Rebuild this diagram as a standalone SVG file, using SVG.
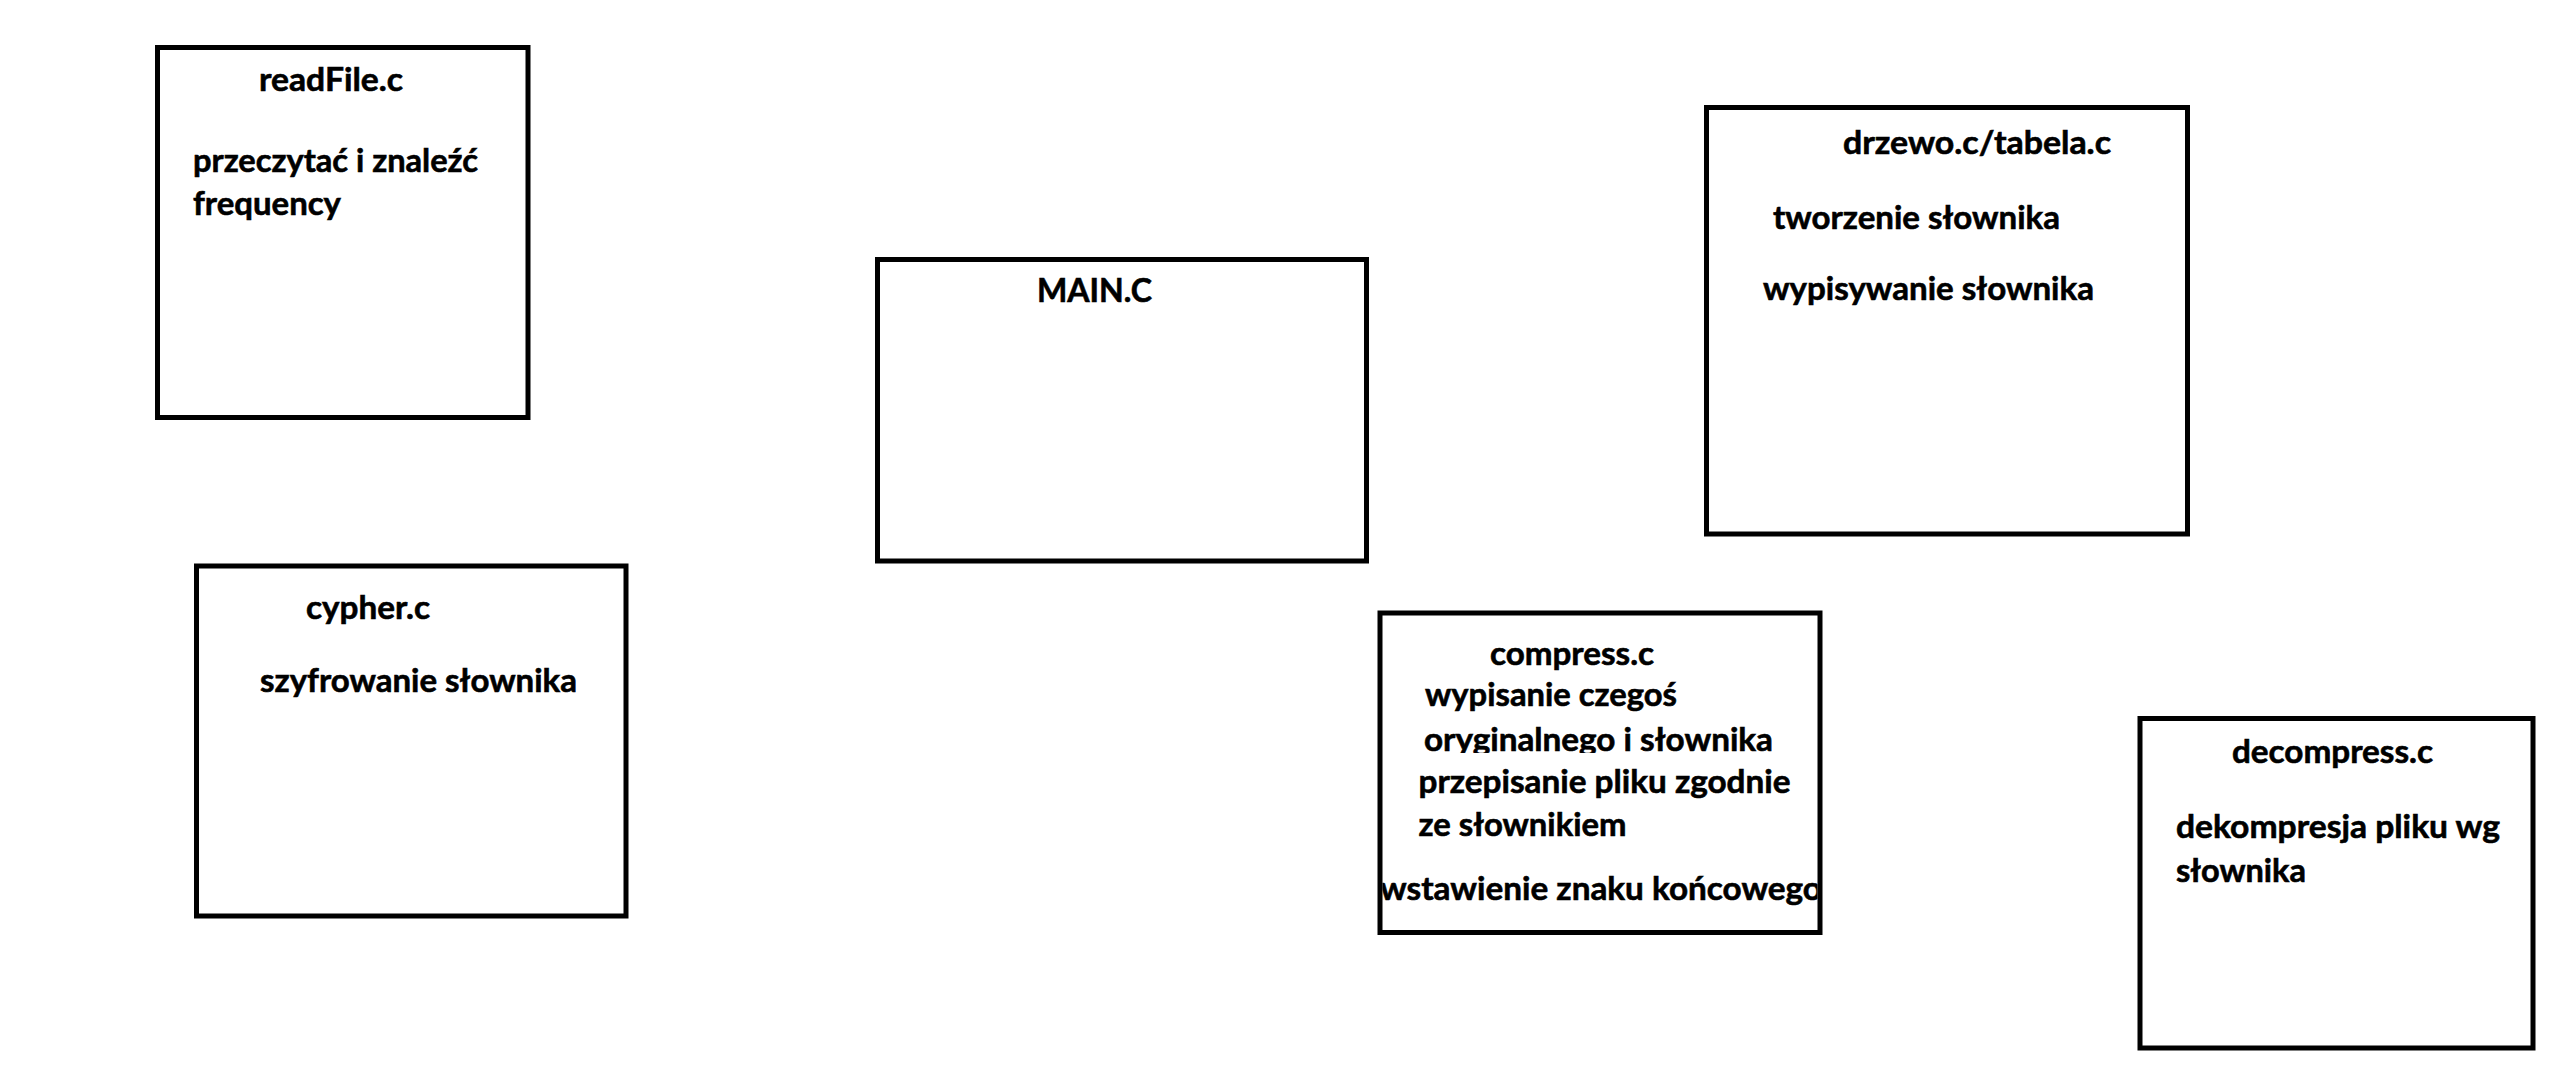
<svg xmlns="http://www.w3.org/2000/svg" width="2568" height="1068" viewBox="0 0 2568 1068">
<style>
.box{fill:#fff;stroke:#000;stroke-width:5}
.t{font-family:Lato,"Open Sans","Liberation Sans",sans-serif;font-weight:bold;font-size:33px;fill:#000;stroke:#000;stroke-width:0.6}
</style>
<defs>
<clipPath id="clipOrig"><rect x="1382" y="700" width="436" height="53"/></clipPath>
<clipPath id="clipEnd"><rect x="1382.5" y="860" width="435" height="60"/></clipPath>
</defs>
<rect width="2568" height="1068" fill="#fff"/>
<g id="connectors"/>
<g id="readFile">
<rect class="box" x="157.5" y="47.5" width="370.5" height="370"/>
<text class="t" x="259" y="91" textLength="144" lengthAdjust="spacingAndGlyphs">readFile.c</text>
<text class="t" x="193" y="172" textLength="285" lengthAdjust="spacingAndGlyphs">przeczytać i znaleźć</text>
<text class="t" x="193" y="215" textLength="148" lengthAdjust="spacingAndGlyphs">frequency</text>
</g>
<g id="cypher">
<rect class="box" x="196.5" y="566" width="429.5" height="350"/>
<text class="t" x="306" y="619" textLength="124" lengthAdjust="spacingAndGlyphs">cypher.c</text>
<text class="t" x="260" y="691.5" textLength="317" lengthAdjust="spacingAndGlyphs">szyfrowanie słownika</text>
</g>
<g id="main">
<rect class="box" x="877.5" y="259.5" width="489" height="301.5"/>
<text class="t" x="1037" y="301.5" textLength="115" lengthAdjust="spacingAndGlyphs">MAIN.C</text>
</g>
<g id="drzewo">
<rect class="box" x="1706.5" y="107.5" width="481" height="426.5"/>
<text class="t" x="1843" y="153.5" textLength="268" lengthAdjust="spacingAndGlyphs">drzewo.c/tabela.c</text>
<text class="t" x="1773" y="228.5" textLength="287" lengthAdjust="spacingAndGlyphs">tworzenie słownika</text>
<text class="t" x="1763" y="300" textLength="331" lengthAdjust="spacingAndGlyphs">wypisywanie słownika</text>
</g>
<g id="compress">
<rect class="box" x="1380" y="613" width="440" height="319.5"/>
<text class="t" x="1490" y="664.5" textLength="164" lengthAdjust="spacingAndGlyphs">compress.c</text>
<text class="t" x="1425" y="706" textLength="252" lengthAdjust="spacingAndGlyphs">wypisanie czegoś</text>
<text class="t" x="1424" y="750.5" textLength="349" lengthAdjust="spacingAndGlyphs" clip-path="url(#clipOrig)">oryginalnego i słownika</text>
<text class="t" x="1418.5" y="792.5" textLength="372" lengthAdjust="spacingAndGlyphs">przepisanie pliku zgodnie</text>
<text class="t" x="1418.5" y="836" textLength="208" lengthAdjust="spacingAndGlyphs">ze słownikiem</text>
<text class="t" x="1380" y="899.5" textLength="442" lengthAdjust="spacingAndGlyphs" clip-path="url(#clipEnd)">wstawienie znaku końcowego</text>
</g>
<g id="decompress">
<rect class="box" x="2140" y="718.5" width="393" height="329.5"/>
<text class="t" x="2232" y="762.5" textLength="201" lengthAdjust="spacingAndGlyphs">decompress.c</text>
<text class="t" x="2176" y="837.5" textLength="324" lengthAdjust="spacingAndGlyphs">dekompresja pliku wg</text>
<text class="t" x="2176" y="881.5" textLength="130" lengthAdjust="spacingAndGlyphs">słownika</text>
</g>
</svg>
